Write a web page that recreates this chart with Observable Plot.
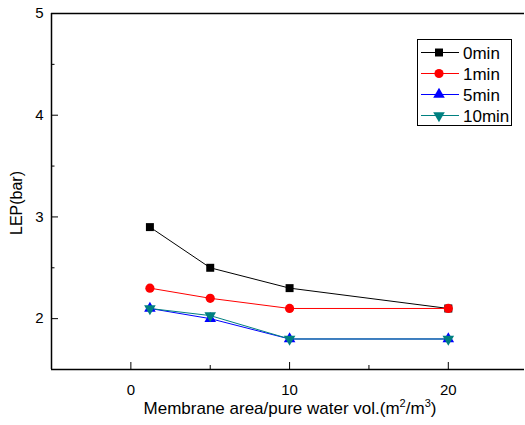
<!DOCTYPE html>
<html><head><meta charset="utf-8">
<script src="https://cdn.jsdelivr.net/npm/d3@7"></script>
<script src="https://cdn.jsdelivr.net/npm/@observablehq/plot@0.6"></script>
<style>
body{margin:0;background:#fff;font-family:"Liberation Sans",Arial,sans-serif;}
#wrap{position:relative;width:525px;height:425px;}
.ylab{position:absolute;left:17px;top:203px;transform:translate(-50%,-50%) rotate(-90deg);font-size:16px;white-space:nowrap;color:#000;}
.xlab{position:absolute;left:290px;top:409px;transform:translate(-50%,-50%);font-size:17px;white-space:nowrap;color:#000;}
.xlab sup{font-size:11px;vertical-align:7px;line-height:0;}
#legend{position:absolute;left:0;top:0;}
</style>
</head><body>
<div id="wrap"></div>
<script>
const xValues = [1.2, 5, 10, 20];
const seriesNames = ["0min", "1min", "5min", "10min"];
const lep0 = [2.9, 2.5, 2.3, 2.1];
const lep1 = [2.3, 2.2, 2.1, 2.1];
const lep5 = [2.1, 2.0, 1.8, 1.8];
const lep10 = [2.1, 2.03, 1.8, 1.8];
const xMajor = [0, 10, 20];
const xMinor = [5, 15];
const yMajor = [2, 3, 4, 5];
const yMinor = [2.5, 3.5, 4.5];

const colors = ["#000000", "#ff0000", "#0000ff", "#008080"];
const sqrt3 = Math.sqrt(3);
const triDown = {draw(ctx, size){
  const y = -Math.sqrt(size / (sqrt3 * 3));
  ctx.moveTo(0, -y * 2); ctx.lineTo(-sqrt3 * y, y); ctx.lineTo(sqrt3 * y, y); ctx.closePath();
}};
const symbols = ["square", "circle", "triangle", triDown];
const symbolObjs = [d3.symbolSquare, d3.symbolCircle, d3.symbolTriangle, triDown];
const radii = [4.5, 4.6, 4.3, 4.3];
const vals = [lep0, lep1, lep5, lep10];

const marks = [];
vals.forEach((v, i) => {
  const data = xValues.map((x, j) => ({x, y: v[j]}));
  marks.push(Plot.line(data, {x: "x", y: "y", stroke: colors[i], strokeWidth: 1}));
});
vals.forEach((v, i) => {
  const data = xValues.map((x, j) => ({x, y: v[j]}));
  marks.push(Plot.dot(data, {x: "x", y: "y", symbol: symbols[i], fill: colors[i], stroke: "none", r: radii[i]}));
});

const fmt = d => String(d);
const chart = Plot.plot({
  width: 525, height: 425,
  marginLeft: 51, marginRight: 1, marginTop: 13, marginBottom: 56,
  style: {fontFamily: "Liberation Sans, Arial, sans-serif", fontSize: "15px", color: "#000", background: "#fff"},
  x: {domain: [-5, 24.8]},
  y: {domain: [1.5, 5]},
  marks: [
    Plot.axisX({ticks: xMajor, tickSize: -7, tickPadding: 22, tickFormat: fmt, label: null, fontSize: 15}),
    Plot.axisX({ticks: xMinor, tickSize: -4, tickFormat: () => "", label: null}),
    Plot.axisY({ticks: yMajor, tickSize: -7, tickPadding: 15, tickFormat: fmt, label: null, fontSize: 15}),
    Plot.axisY({ticks: yMinor, tickSize: -3.5, tickFormat: () => "", label: null}),
    Plot.ruleY([1.5], {strokeWidth: 1.5}),
    Plot.ruleY([5], {strokeWidth: 1.5}),
    Plot.ruleX([-5], {strokeWidth: 1.5}),
    ...marks
  ]
});
const wrap = document.getElementById("wrap");
wrap.appendChild(chart);

const yl = document.createElement("div");
yl.className = "ylab"; yl.textContent = "LEP(bar)";
wrap.appendChild(yl);
const xl = document.createElement("div");
xl.className = "xlab";
xl.innerHTML = "Membrane area/pure water vol.(m<sup>2</sup>/m<sup>3</sup>)";
wrap.appendChild(xl);

// legend
const lg = d3.select(wrap).append("svg").attr("id", "legend").attr("width", 525).attr("height", 425)
  .style("pointer-events", "none");
lg.append("rect").attr("x", 417.5).attr("y", 39.5).attr("width", 94).attr("height", 86)
  .attr("fill", "#fff").attr("stroke", "#000").attr("stroke-width", 1);
seriesNames.forEach((name, i) => {
  const cy = 52.5 + 21 * i;
  lg.append("line").attr("x1", 421).attr("x2", 459).attr("y1", cy).attr("y2", cy)
    .attr("stroke", colors[i]).attr("stroke-width", 1);
  lg.append("path").attr("d", d3.symbol(symbolObjs[i], Math.PI * radii[i] * radii[i])())
    .attr("transform", `translate(439,${cy})`).attr("fill", colors[i]);
  lg.append("text").attr("x", 463).attr("y", cy).attr("dy", "0.36em")
    .attr("font-size", 17).attr("font-family", "Liberation Sans, Arial, sans-serif").text(name);
});
</script>
</body></html>
